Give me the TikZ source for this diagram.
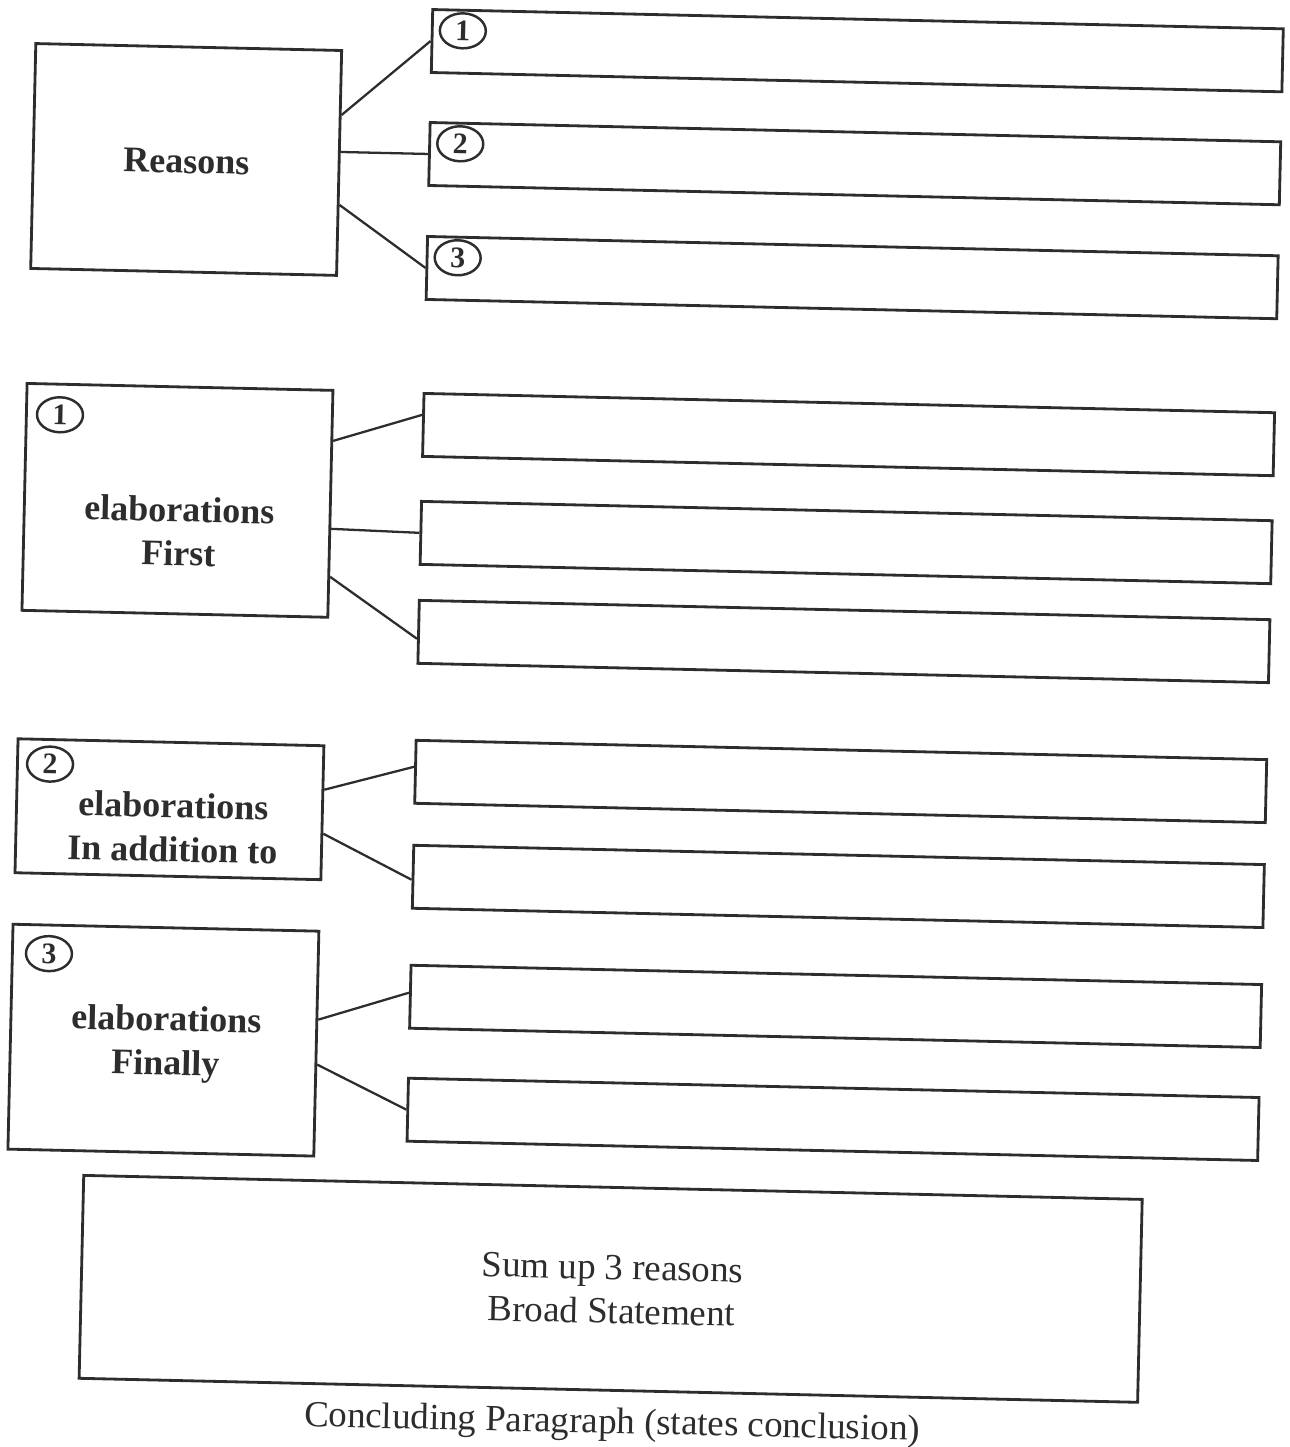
\documentclass[tikz,border=0pt]{standalone}
\usepackage{fontspec}
\setmainfont{Liberation Serif}
\usepackage{tikz}
\usetikzlibrary{positioning,shapes.geometric,calc}
\definecolor{ink}{RGB}{45,45,45}
\tikzset{
  slot/.style={draw=ink,line width=1.6pt,minimum width=170.2mm,minimum height=12.6mm,inner sep=0pt},
  topic/.style={draw=ink,line width=1.6pt,minimum width=61.2mm,inner sep=0pt},
  lbl/.style={font=\fontsize{20.5}{25}\selectfont\bfseries,text=ink,align=center},
  body/.style={font=\fontsize{21}{25}\selectfont,text=ink,align=center},
  num/.style={ellipse,draw=ink,line width=1.4pt,minimum width=9.2mm,minimum height=7mm,
    inner sep=0pt,font=\fontsize{17}{17}\selectfont\bfseries,text=ink},
  link/.style={draw=ink,line width=1.3pt},
}
\begin{document}
\begin{tikzpicture}[x=0.02cm,y=-0.02cm]
  \useasboundingbox (0,0) rectangle (1289,1447);
  % the scanned sheet sits slightly askew
  \begin{scope}[rotate around={-1.3:(645,723)},transform shape]
    \node[topic,minimum height=45mm] (reasons) at (173.5,170) {};
    \node[topic,minimum height=45.4mm] (first) at (172.5,511) {};
    \node[topic,minimum height=26.8mm] (addition) at (171.5,820) {};
    \node[topic,minimum height=45mm] (finally) at (170.7,1051) {};
    \node[lbl] (reasonstxt) at (174,172) {Reasons};
    \node[lbl] (firsttxt) at (175,542) {elaborations\\First};
    \node[lbl] (additiontxt) at (176,838) {elaborations\\In addition to};
    \node[lbl] (finallytxt) at (174,1055) {elaborations\\Finally};
    \node[num] (nfirst) at ([shift={(35,32)}]first.north west) {1};
    \node[num] (naddition) at ([shift={(34,26)}]addition.north west) {2};
    \node[num] (nfinally) at ([shift={(38,30)}]finally.north west) {3};
    \foreach \s/\y in {r1/46,r2/159,r3/273,f1/430,f2/538,f3/637,a1/777,a2/882,z1/1002,z2/1115}
      \node[slot] (\s) at (842,\y) {};
    \foreach \s/\n in {r1/1,r2/2,r3/3}
      \node[num] (n\s) at ([shift={(32,22)}]\s.north west) {\n};
    \draw[link] ([shift={(0,-48)}]reasons.east) -- (r1.west);
    \draw[link] ([shift={(0,-11)}]reasons.east) -- (r2.west);
    \draw[link] ([shift={(0,42)}]reasons.east) -- (r3.west);
    \draw[link] ([shift={(0,-63)}]first.east) -- ([shift={(0,-10)}]f1.west);
    \draw[link] ([shift={(0,25)}]first.east) -- (f2.west);
    \draw[link] ([shift={(0,73)}]first.east) -- ([shift={(0,7)}]f3.west);
    \draw[link] ([shift={(0,-23)}]addition.east) -- ([shift={(0,-5)}]a1.west);
    \draw[link] ([shift={(0,21)}]addition.east) -- ([shift={(0,3)}]a2.west);
    \draw[link] ([shift={(0,-24)}]finally.east) -- ([shift={(0,-4)}]z1.west);
    \draw[link] ([shift={(0,21)}]finally.east) -- (z2.west);
    \node[topic,minimum width=211.8mm,minimum height=40.6mm] (sum) at (623.5,1289.5) {};
    \node[body] (sumtxt) at (625,1290) {Sum up 3 reasons\\Broad Statement};
    \node[body,anchor=base] (concl) at (628,1434) {Concluding Paragraph (states conclusion)};
  \end{scope}
\end{tikzpicture}
\end{document}
